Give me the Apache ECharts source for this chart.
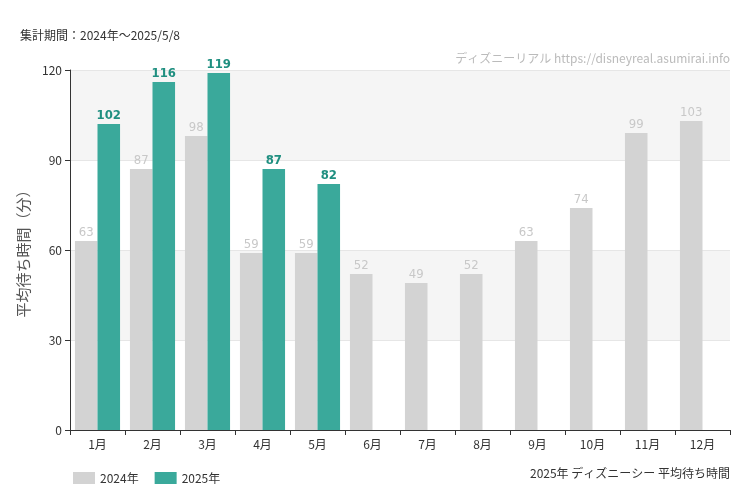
<!DOCTYPE html>
<html lang="ja">
<head>
<meta charset="UTF-8">
<style>
    *{margin:0;}
    html,body{height:100%;background:#fff;}
    #chart{width:750px;height:500px;}
</style>
<script src="https://cdn.jsdelivr.net/npm/echarts@6/dist/echarts.min.js"></script>
</head>
<body>
<div id="chart"></div>
<script>
    // 月別データ
    const months = ['1月','2月','3月','4月','5月','6月','7月','8月','9月','10月','11月','12月'];
    const wait2024 = [63, 87, 98, 59, 59, 52, 49, 52, 63, 74, 99, 103];
    const wait2025 = [102, 116, 119, 87, 82, null, null, null, null, null, null, null];
    const font = '"Noto Sans CJK JP", "Noto Sans", sans-serif';

    var myChart = echarts.init(document.getElementById('chart'));
    myChart.setOption({
        animation: false,
        textStyle: {fontFamily: font},
        graphic: [
            {type: 'text', left: 20, top: 29, style: {text: '集計期間：2024年～2025/5/8', fontSize: 12, fill: '#333', fontFamily: font}},
            {type: 'text', right: 20, top: 52, style: {text: 'ディズニーリアル https://disneyreal.asumirai.info', fontSize: 12, fill: '#bbb', fontFamily: font}},
            {type: 'text', right: 20, top: 467, style: {text: '2025年 ディズニーシー 平均待ち時間', fontSize: 12, fill: '#333', fontFamily: font}}
        ],
        legend: {
            left: 68, top: 467, itemWidth: 22, itemHeight: 12, itemGap: 16, icon: 'rect',
            textStyle: {fontSize: 12, color: '#333'},
            data: ['2024年', '2025年']
        },
        grid: {left: 70, right: 20, top: 70, bottom: 70},
        xAxis: {
            type: 'category', data: months,
            axisLine: {lineStyle: {color: '#333'}},
            axisTick: {show: true, alignWithLabel: false, lineStyle: {color: '#333'}},
            axisLabel: {color: '#333', fontSize: 12}
        },
        yAxis: {
            type: 'value', min: 0, max: 120, interval: 30,
            name: '平均待ち時間（分）', nameLocation: 'middle', nameGap: 38,
            nameTextStyle: {fontSize: 15, color: '#555'},
            axisLine: {show: true, lineStyle: {color: '#333'}},
            axisTick: {show: true},
            axisLabel: {color: '#333', fontSize: 12},
            splitLine: {lineStyle: {color: '#e6e6e6'}},
            splitArea: {show: true, areaStyle: {color: ['#ffffff', '#f5f5f5']}}
        },
        series: [
            {
                name: '2024年', type: 'bar', data: wait2024,
                barGap: 0, barCategoryGap: '18%',
                itemStyle: {color: '#d3d3d3'},
                label: {show: true, position: 'top', distance: 2, color: '#c8c8c8', fontSize: 13, fontFamily: '"Liberation Sans Narrow", "DejaVu Sans Condensed", sans-serif'}
            },
            {
                name: '2025年', type: 'bar', data: wait2025,
                itemStyle: {color: '#3aa99b'},
                label: {show: true, position: 'top', distance: 2, color: '#1f8f80', fontSize: 13, fontWeight: 'bold', fontFamily: '"Liberation Sans Narrow", "DejaVu Sans Condensed", sans-serif'}
            }
        ]
    });
</script>
</body>
</html>
